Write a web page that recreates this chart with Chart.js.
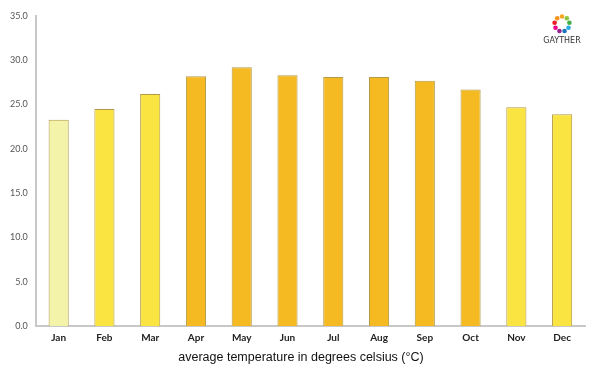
<!DOCTYPE html>
<html><head><meta charset="utf-8">
<script src="https://cdn.jsdelivr.net/npm/chart.js@4/dist/chart.umd.min.js"></script>
<style>html,body{margin:0;padding:0;background:#fff;}#c{display:block;}</style>
</head><body>
<canvas id="c" width="600" height="375"></canvas>
<script>
const months = ['Jan','Feb','Mar','Apr','May','Jun','Jul','Aug','Sep','Oct','Nov','Dec'];
const avgTemp = [23.3, 24.5, 26.2, 28.2, 29.2, 28.3, 28.1, 28.1, 27.7, 26.7, 24.7, 23.9];
const barColors = ['#F3F3A9','#F9E442','#F9E442','#F5B921','#F5B921','#F5B921','#F5B921','#F5B921','#F5B921','#F5B921','#F9E442','#F9E442'];
const yTicks = [0, 5, 10, 15, 20, 25, 30, 35];
const axisTitle = 'average temperature in degrees celsius (°C)';

const logoPlugin = {
  id: 'logo',
  afterDraw(chart) {
    const ctx = chart.ctx;
    const cx = 562, cy = 24, r = 7.5;
    const cols = ['#f2a81e','#8cc63f','#3fae49','#27a9e1','#1c75bc','#92278f','#ec008c','#ed1c24','#f7941d'];
    ctx.save();
    for (let i = 0; i < cols.length; i++) {
      const a = -Math.PI / 2 + i * 2 * Math.PI / cols.length;
      ctx.fillStyle = cols[i];
      ctx.beginPath();
      ctx.arc(cx + r * Math.cos(a), cy + r * Math.sin(a), 2.3, 0, Math.PI * 2);
      ctx.fill();
    }
    ctx.fillStyle = '#333';
    ctx.font = '8px "DejaVu Sans"';
    ctx.textAlign = 'center';
    ctx.textBaseline = 'middle';
    ctx.fillText('GAYTHER', cx, 41);
    ctx.restore();
  }
};

new Chart(document.getElementById('c'), {
  type: 'bar',
  data: {
    labels: months,
    datasets: [{
      data: avgTemp,
      backgroundColor: barColors,
      borderColor: '#B39B45',
      borderWidth: 1,
      barPercentage: 0.88,
      categoryPercentage: 0.5
    }]
  },
  options: {
    responsive: false,
    animation: false,
    layout: { padding: { top: 16, right: 0, left: 2, bottom: 4 } },
    plugins: {
      legend: { display: false },
      tooltip: { enabled: false },
      title: {
        display: true,
        position: 'bottom',
        text: axisTitle,
        color: '#111',
        font: { family: 'Liberation Sans', size: 12.5, weight: 'normal' },
        padding: { top: 0, bottom: 6 }
      }
    },
    scales: {
      x: {
        grid: { display: false, drawTicks: false },
        border: { color: '#c8c8c8', width: 2 },
        ticks: { color: '#222', font: { family: 'Lato', size: 10, weight: 'bold' }, padding: 6 }
      },
      y: {
        min: 0, max: 35,
        afterBuildTicks(scale) { scale.ticks = yTicks.map(v => ({ value: v })); },
        grid: { display: false, drawTicks: false },
        border: { color: '#c8c8c8', width: 2 },
        ticks: { color: '#555', font: { family: 'Lato', size: 9 }, padding: 8, callback: v => Number(v).toFixed(1) }
      },
      ySpacer: {
        position: 'right',
        min: 0, max: 35,
        grid: { display: false, drawTicks: false },
        border: { display: false },
        ticks: { display: false },
        afterFit(scale) { scale.width = 15; }
      }
    }
  },
  plugins: [logoPlugin]
});
</script>
</body></html>
